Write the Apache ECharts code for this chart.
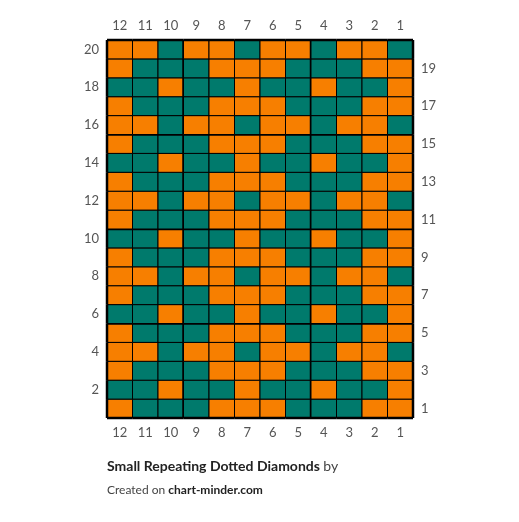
<!DOCTYPE html>
<html>
<head>
<meta charset="utf-8">
<script src="https://cdn.jsdelivr.net/npm/echarts@6/dist/echarts.min.js"></script>
<style>html,body{margin:0;padding:0;background:#fff}#c{width:519px;height:522px}</style>
</head>
<body>
<div id="c"></div>
<script>
var colLabels = ["12", "11", "10", "9", "8", "7", "6", "5", "4", "3", "2", "1"];
var rowLabels = ["1","2","3","4","5","6","7","8","9","10","11","12","13","14","15","16","17","18","19","20"];
// rows from bottom (row 1) to top (row 20), cells left (col 12) to right (col 1); O orange, T teal
var rows = [
  "OTTTOOOTTTOO",
  "TTOTTOTTOTTO",
  "OTTTOOOTTTOO",
  "OOTOOTOOTOOT",
  "OTTTOOOTTTOO",
  "TTOTTOTTOTTO",
  "OTTTOOOTTTOO",
  "OOTOOTOOTOOT",
  "OTTTOOOTTTOO",
  "TTOTTOTTOTTO",
  "OTTTOOOTTTOO",
  "OOTOOTOOTOOT",
  "OTTTOOOTTTOO",
  "TTOTTOTTOTTO",
  "OTTTOOOTTTOO",
  "OOTOOTOOTOOT",
  "OTTTOOOTTTOO",
  "TTOTTOTTOTTO",
  "OTTTOOOTTTOO",
  "OOTOOTOOTOOT"
];
var colors = { O: "#f77f00", T: "#007a6c" };

var cells = [];
rows.forEach(function (r, y) {
  for (var x = 0; x < r.length; x++) cells.push([x, y, r[x]]);
});

var chart = echarts.init(document.getElementById("c"));
var font = "Lato, 'Open Sans', sans-serif";
var lbl = { color: "#555", fontSize: 13, fontFamily: font };

function renderCell(params, api) {
  var x = api.value(0), y = api.value(1);
  var p0 = api.coord([x, y]);
  var w = api.size([1, 1]);
  var children = [{
    type: "rect",
    shape: { x: p0[0] - w[0] / 2, y: p0[1] - w[1] / 2, width: w[0], height: w[1] },
    style: { fill: colors[cells[params.dataIndex][2]], stroke: "#000", lineWidth: 1 }
  }];
  // thick lines every 5 stitches / rows, plus outer border
  var left = p0[0] - w[0] / 2, right = p0[0] + w[0] / 2, top = p0[1] - w[1] / 2, bot = p0[1] + w[1] / 2;
  var thick = { stroke: "#000", lineWidth: 2.5 };
  var stitch = 12 - x;
  if (stitch % 5 === 0 || x === 11) children.push({ type: "line", shape: { x1: right, y1: top, x2: right, y2: bot }, style: thick });
  if (x === 0) children.push({ type: "line", shape: { x1: left, y1: top, x2: left, y2: bot }, style: thick });
  if ((y + 1) % 5 === 0 || y === 19) children.push({ type: "line", shape: { x1: left, y1: top, x2: right, y2: top }, style: thick });
  if (y === 0) children.push({ type: "line", shape: { x1: left, y1: bot, x2: right, y2: bot }, style: thick });
  return { type: "group", children: children };
}

chart.setOption({
  animation: false,
  grid: { left: 107, right: 106, top: 40, bottom: 104 },
  xAxis: [
    { type: "category", data: colLabels, position: "top", axisLine: { show: false }, axisTick: { show: false }, axisLabel: lbl },
    { type: "category", data: colLabels, position: "bottom", axisLine: { show: false }, axisTick: { show: false }, axisLabel: lbl }
  ],
  yAxis: [
    { type: "category", data: rowLabels, position: "left", axisLine: { show: false }, axisTick: { show: false },
      axisLabel: Object.assign({ interval: 0, formatter: function (v) { return v % 2 === 0 ? v : ""; } }, lbl) },
    { type: "category", data: rowLabels, position: "right", axisLine: { show: false }, axisTick: { show: false },
      axisLabel: Object.assign({ interval: 0, formatter: function (v) { return v % 2 === 1 ? v : ""; } }, lbl) }
  ],
  series: [{
    type: "custom",
    renderItem: renderCell,
    data: cells.map(function (c) { return [c[0], c[1]]; }),
    encode: { x: 0, y: 1 }
  }],
  graphic: [
    { type: "text", left: 107, top: 459, style: { text: "{b|Small Repeating Dotted Diamonds} {n|by}",
      rich: { b: { fontWeight: "bold", fontSize: 14, fill: "#222", fontFamily: font }, n: { fontSize: 14, fill: "#444", fontFamily: font } } } },
    { type: "text", left: 107, top: 484, style: { text: "Created on {b|chart-minder.com}", fontSize: 12, fill: "#444", fontFamily: font,
      rich: { b: { fontWeight: "bold", fontSize: 12, fill: "#222", fontFamily: font } } } }
  ]
});
</script>
</body>
</html>
